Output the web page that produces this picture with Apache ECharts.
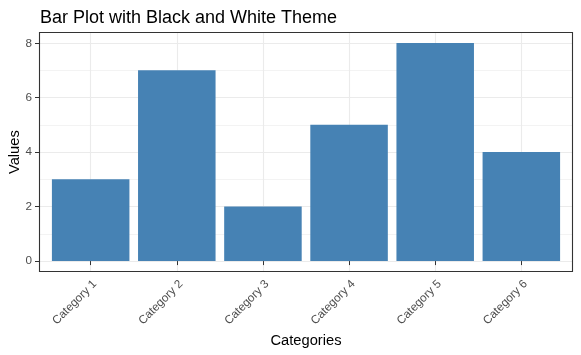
<!DOCTYPE html>
<html>
<head>
<meta charset="utf-8">
<script src="https://cdn.jsdelivr.net/npm/echarts@6/dist/echarts.min.js"></script>
<style>
html, body { margin: 0; padding: 0; background: #fff; }
#main { width: 581px; height: 355px; }
</style>
</head>
<body>
<div id="main"></div>
<script>
// data
var categories = ['Category 1', 'Category 2', 'Category 3', 'Category 4', 'Category 5', 'Category 6'];
var values = [3, 7, 2, 5, 8, 4];
var yMin = 0, yMax = 8, yStep = 2;

var myChart = echarts.init(document.getElementById('main'));
var font = 'Liberation Sans, Arial, sans-serif';

var option = {
    backgroundColor: '#fff',
    animation: false,
    title: {
        text: 'Bar Plot with Black and White Theme',
        left: 35, top: 4,
        textStyle: { fontFamily: font, fontSize: 18, fontWeight: 'normal', color: '#000' }
    },
    grid: [
        // panel grid: horizontal lines and y labels
        { left: 39, right: 8, top: 43.3, bottom: 94, outerBoundsMode: 'none', containLabel: false },
        // bar grid, narrower like ggplot's discrete expansion
        { left: 47.6, right: 16.6, top: 32, bottom: 83, outerBoundsMode: 'none', containLabel: false }
    ],
    xAxis: [
        { gridIndex: 0, type: 'value', min: 0, max: 1, show: false },
        {
            gridIndex: 1, type: 'category', data: categories,
            name: 'Categories', nameLocation: 'middle', nameGap: 60,
            nameTextStyle: { fontFamily: font, fontSize: 14.7, color: '#000' },
            axisLine: { show: false },
            axisTick: { show: true, alignWithLabel: true, length: 4, lineStyle: { color: '#333' } },
            axisLabel: { rotate: 45, margin: 6, verticalAlign: 'top', fontFamily: font, fontSize: 11.7, color: '#4d4d4d' },
            splitLine: { show: true, alignWithLabel: true, lineStyle: { color: '#ebebeb', width: 1.1 } }
        }
    ],
    yAxis: [
        {
            gridIndex: 0, type: 'value', min: yMin, max: yMax, interval: yStep,
            name: 'Values', nameLocation: 'middle', nameGap: 17, nameMoveOverlap: false,
            nameTextStyle: { fontFamily: font, fontSize: 14.7, color: '#000' },
            axisLine: { show: false },
            axisTick: { show: true, length: 4, lineStyle: { color: '#333' } },
            axisLabel: { margin: 7, fontFamily: font, fontSize: 11.7, color: '#4d4d4d' },
            splitLine: { show: true, lineStyle: { color: '#ebebeb', width: 1.1 } },
            minorTick: { show: false, splitNumber: 2 },
            minorSplitLine: { show: true, lineStyle: { color: '#ebebeb', width: 0.6 } }
        },
        { gridIndex: 1, type: 'value', min: -0.4, max: 8.4, show: false }
    ],
    graphic: [{
        type: 'rect', z: 100,
        shape: { x: 39.5, y: 32.5, width: 533, height: 239 },
        style: { fill: 'none', stroke: '#333', lineWidth: 1.1 }
    }],
    series: [{
        type: 'bar',
        xAxisIndex: 1, yAxisIndex: 1,
        data: values,
        barWidth: '90%',
        itemStyle: { color: '#4682b4' }
    }]
};

myChart.setOption(option);
</script>
</body>
</html>
